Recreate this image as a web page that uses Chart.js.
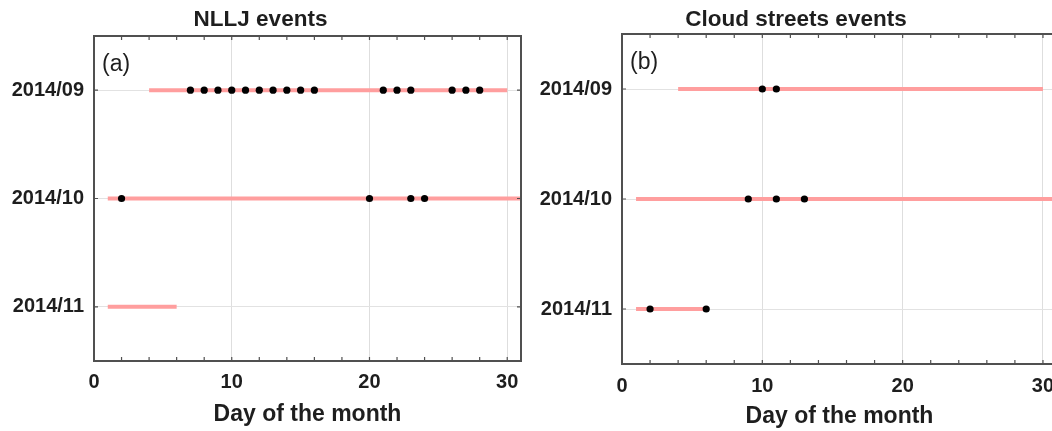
<!DOCTYPE html>
<html lang="en">
<head>
    <meta charset="UTF-8">
    <title>NLLJ and cloud streets events</title>
    <script src="https://cdn.jsdelivr.net/npm/chart.js@4.4.1/dist/chart.umd.min.js"></script>
    <style>
      html, body { margin: 0; padding: 0; width: 1052px; height: 431px; overflow: hidden; background: #fff; }
      canvas { position: absolute; top: 0; }
    </style>
    <script>
      const months = ['2014/09', '2014/10', '2014/11']
      const dayTicks = [0, 10, 20, 30]

      // NLLJ: period covered per month and event days
      const nlljStart = [4, 1, 1]
      const nlljEnd = [30, 31, 6]
      const nlljSep = [7, 8, 9, 10, 11, 12, 13, 14, 15, 16, 21, 22, 23, 26, 27, 28]
      const nlljOct = [2, 20, 23, 24]
      const nlljNov = []

      // cloud streets
      const cloudStart = [4, 1, 1]
      const cloudEnd = [30, 31, 6]
      const cloudSep = [10, 11]
      const cloudOct = [9, 11, 13]
      const cloudNov = [2, 6]

      const pink = 'rgb(255, 158, 158)'
      const ink = '#1e1e1e'

      const framePlugin = {
        id: 'frame',
        afterDatasetsDraw(chart, args, opts) {
          const { ctx, chartArea: a, scales: { x, y } } = chart
          ctx.save()
          ctx.strokeStyle = '#505050'
          ctx.lineWidth = 1.2
          ctx.beginPath()
          for (let d = 0; d <= 30; d += 2) {
            const px = x.getPixelForValue(d)
            ctx.moveTo(px, a.bottom); ctx.lineTo(px, a.bottom - 4)
            ctx.moveTo(px, a.top); ctx.lineTo(px, a.top + 4)
          }
          months.forEach((m, i) => {
            const py = y.getPixelForValue(i + 1)
            ctx.moveTo(a.left, py); ctx.lineTo(a.left + 4, py)
            ctx.moveTo(a.right, py); ctx.lineTo(a.right - 4, py)
          })
          ctx.stroke()
          ctx.lineWidth = 2
          ctx.strokeRect(a.left, a.top, a.right - a.left, a.bottom - a.top)
          ctx.fillStyle = ink
          ctx.font = '23px "Liberation Sans", Arial, sans-serif'
          ctx.textBaseline = 'alphabetic'
          ctx.fillText(opts.label, a.left + 8, a.top + 35)
          ctx.restore()
        }
      }

      function makeChart(id, title, label, starts, ends, events, layout) {
        const datasets = months.map((m, i) => ({
          type: 'line',
          data: [{ x: starts[i], y: i + 1 }, { x: ends[i], y: i + 1 }],
          borderColor: pink,
          borderWidth: 4,
          pointRadius: 0,
          order: 2
        }))
        datasets.push({
          type: 'scatter',
          data: events.flatMap((days, i) => days.map(d => ({ x: d, y: i + 1 }))),
          backgroundColor: '#000',
          borderWidth: 0,
          pointRadius: 3.6,
          order: 1
        })

        return new Chart(document.getElementById(id), {
          type: 'scatter',
          data: { datasets: datasets },
          options: {
            responsive: false,
            animation: false,
            layout: { padding: { left: 0, right: layout.right, top: 0, bottom: 0 } },
            plugins: {
              legend: { display: false },
              tooltip: { enabled: false },
              title: {
                display: true,
                text: title,
                color: ink,
                font: { family: '"Liberation Sans", Arial', size: 22.5, weight: 'bold' },
                padding: { top: 6, bottom: layout.titleGap }
              },
              frame: { label: label }
            },
            scales: {
              x: {
                type: 'linear',
                min: 0,
                max: 31,
                afterBuildTicks: s => { s.ticks = dayTicks.map(v => ({ value: v })) },
                afterFit: s => { s.height = layout.xHeight },
                ticks: {
                  color: ink,
                  padding: layout.xPad,
                  maxRotation: 0,
                  autoSkip: false,
                  font: { family: '"Liberation Sans", Arial', size: 20, weight: 'bold' }
                },
                grid: {
                  drawTicks: false,
                  color: c => (c.tick && c.tick.value === 0 ? 'rgba(0,0,0,0)' : '#dedede')
                },
                border: { display: false },
                title: {
                  display: true,
                  text: 'Day of the month',
                  color: ink,
                  font: { family: '"Liberation Sans", Arial', size: 23, weight: 'bold' },
                  padding: { top: 0, bottom: layout.titlePad }
                }
              },
              y: {
                type: 'linear',
                min: 0.5,
                max: 3.5,
                reverse: true,
                afterBuildTicks: s => { s.ticks = months.map((m, i) => ({ value: i + 1 })) },
                afterFit: s => { s.width = layout.yWidth },
                ticks: {
                  color: ink,
                  padding: 10,
                  autoSkip: false,
                  font: { family: '"Liberation Sans", Arial', size: 20, weight: 'bold' },
                  callback: v => months[v - 1]
                },
                grid: { drawTicks: false, color: '#e2e2e2' },
                border: { display: false }
              }
            }
          },
          plugins: [framePlugin]
        })
      }

      window.onload = function() {
        makeChart('chart', 'NLLJ events', '(a)', nlljStart, nlljEnd,
          [nlljSep, nlljOct, nlljNov],
          { right: 14, titleGap: 3, xHeight: 70, xPad: 9, titlePad: 3, yWidth: 94 })
        makeChart('chart2', 'Cloud streets events', '(b)', cloudStart, cloudEnd,
          [cloudSep, cloudOct, cloudNov],
          { right: 18, titleGap: 1, xHeight: 67, xPad: 10, titlePad: 1, yWidth: 87 })
      }
    </script>
</head>
<body>
<canvas id="chart" width="535" height="431" style="left:0px; width:535px; height:431px"></canvas>
<canvas id="chart2" width="540" height="431" style="left:535px; width:540px; height:431px"></canvas>
</body>
</html>
